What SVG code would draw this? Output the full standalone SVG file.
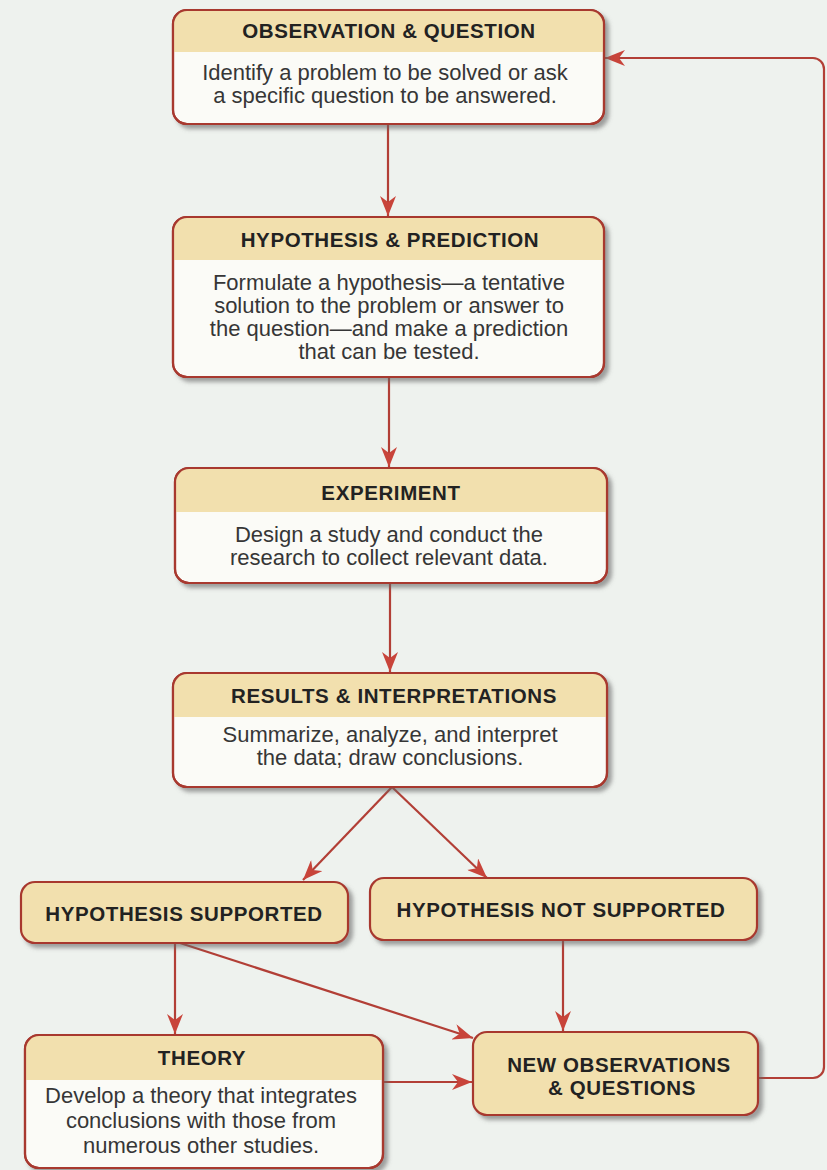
<svg xmlns="http://www.w3.org/2000/svg" width="827" height="1170" viewBox="0 0 827 1170">
  <style>
    .box { fill: #fbfbf7; stroke: #a8392f; stroke-width: 2.2; filter: url(#shadow); }
    .tanbox { fill: #f2e0ae; stroke: #a8392f; stroke-width: 2.2; filter: url(#shadow); }
    .outline { fill: none; stroke: #a8392f; stroke-width: 2.2; }
    .band { fill: #f2e0ae; }
    .title { font-family: "Liberation Sans", Arial, sans-serif; font-weight: bold; font-size: 20.5px; letter-spacing: 0.6px; fill: #222; text-anchor: middle; }
    .body { font-family: "Liberation Sans", Arial, sans-serif; font-size: 22px; fill: #363636; text-anchor: middle; }
    .conn { fill: none; stroke: #b23f36; stroke-width: 2.2; }
  </style>
  <defs>
    <filter id="shadow" x="-5%" y="-10%" width="115%" height="130%">
      <feDropShadow dx="4" dy="4" stdDeviation="2" flood-color="#666" flood-opacity="0.6"/>
    </filter>
    <marker id="arrow" viewBox="0 0 20 16" refX="20" refY="8" markerWidth="20" markerHeight="16" markerUnits="userSpaceOnUse" orient="auto">
      <path d="M0,0 L20,8 L0,16 L6,8 Z" fill="#c8443a"/>
    </marker>
  </defs>

  <rect x="0" y="0" width="827" height="1170" fill="#eef2ee"/>

  <g id="connectors">
    <line class="conn" x1="388" y1="124" x2="388" y2="216" marker-end="url(#arrow)"/>
    <line class="conn" x1="389" y1="377" x2="389" y2="467" marker-end="url(#arrow)"/>
    <line class="conn" x1="390" y1="583" x2="390" y2="672" marker-end="url(#arrow)"/>
    <line class="conn" x1="392" y1="787" x2="303" y2="880" marker-end="url(#arrow)"/>
    <line class="conn" x1="392" y1="787" x2="487" y2="878" marker-end="url(#arrow)"/>
    <line class="conn" x1="175" y1="943" x2="175" y2="1034" marker-end="url(#arrow)"/>
    <line class="conn" x1="180" y1="943" x2="473" y2="1038" marker-end="url(#arrow)"/>
    <line class="conn" x1="383" y1="1082" x2="472" y2="1082" marker-end="url(#arrow)"/>
    <line class="conn" x1="563" y1="940" x2="563" y2="1031" marker-end="url(#arrow)"/>
    <path class="conn" d="M758,1078 H813 A11,11 0 0 0 824,1067 V69 A11,11 0 0 0 813,58 H605" marker-end="url(#arrow)"/>
  </g>

  <g id="observation-question">
    <rect class="box" x="173" y="10" width="431" height="114" rx="14"/>
    <path class="band" d="M173,52 V24 A14,14 0 0 1 187,10 H590 A14,14 0 0 1 604,24 V52 Z"/>
    <rect class="outline" x="173" y="10" width="431" height="114" rx="14"/>
    <text class="title" x="389" y="38">OBSERVATION &amp; QUESTION</text>
    <text class="body" x="385" y="80">Identify a problem to be solved or ask</text>
    <text class="body" x="385" y="103">a specific question to be answered.</text>
  </g>

  <g id="hypothesis-prediction">
    <rect class="box" x="173" y="217" width="431" height="160" rx="14"/>
    <path class="band" d="M173,260 V231 A14,14 0 0 1 187,217 H590 A14,14 0 0 1 604,231 V260 Z"/>
    <rect class="outline" x="173" y="217" width="431" height="160" rx="14"/>
    <text class="title" x="390" y="247">HYPOTHESIS &amp; PREDICTION</text>
    <text class="body" x="389" y="290">Formulate a hypothesis—a tentative</text>
    <text class="body" x="389" y="313">solution to the problem or answer to</text>
    <text class="body" x="389" y="336">the question—and make a prediction</text>
    <text class="body" x="389" y="359">that can be tested.</text>
  </g>

  <g id="experiment">
    <rect class="box" x="175" y="468" width="432" height="115" rx="14"/>
    <path class="band" d="M175,512 V482 A14,14 0 0 1 189,468 H593 A14,14 0 0 1 607,482 V512 Z"/>
    <rect class="outline" x="175" y="468" width="432" height="115" rx="14"/>
    <text class="title" x="391" y="500">EXPERIMENT</text>
    <text class="body" x="389" y="542">Design a study and conduct the</text>
    <text class="body" x="389" y="565">research to collect relevant data.</text>
  </g>

  <g id="results-interpretations">
    <rect class="box" x="173" y="673" width="434" height="114" rx="14"/>
    <path class="band" d="M173,717 V687 A14,14 0 0 1 187,673 H593 A14,14 0 0 1 607,687 V717 Z"/>
    <rect class="outline" x="173" y="673" width="434" height="114" rx="14"/>
    <text class="title" x="394" y="703">RESULTS &amp; INTERPRETATIONS</text>
    <text class="body" x="390" y="742">Summarize, analyze, and interpret</text>
    <text class="body" x="390" y="765">the data; draw conclusions.</text>
  </g>

  <g id="hypothesis-supported">
    <rect class="tanbox" x="21" y="882" width="327" height="61" rx="14"/>
    <text class="title" x="184" y="921">HYPOTHESIS SUPPORTED</text>
  </g>

  <g id="hypothesis-not-supported">
    <rect class="tanbox" x="370" y="878" width="387" height="62" rx="14"/>
    <text class="title" x="561" y="917">HYPOTHESIS NOT SUPPORTED</text>
  </g>

  <g id="theory">
    <rect class="box" x="25" y="1035" width="358" height="133" rx="14"/>
    <path class="band" d="M25,1080 V1049 A14,14 0 0 1 39,1035 H369 A14,14 0 0 1 383,1049 V1080 Z"/>
    <rect class="outline" x="25" y="1035" width="358" height="133" rx="14"/>
    <text class="title" x="202" y="1065">THEORY</text>
    <text class="body" x="201" y="1103">Develop a theory that integrates</text>
    <text class="body" x="201" y="1128">conclusions with those from</text>
    <text class="body" x="201" y="1153">numerous other studies.</text>
  </g>

  <g id="new-observations-questions">
    <rect class="tanbox" x="473" y="1032" width="285" height="83" rx="14"/>
    <text class="title" x="619" y="1072">NEW OBSERVATIONS</text>
    <text class="title" x="622" y="1095">&amp; QUESTIONS</text>
  </g>
</svg>
